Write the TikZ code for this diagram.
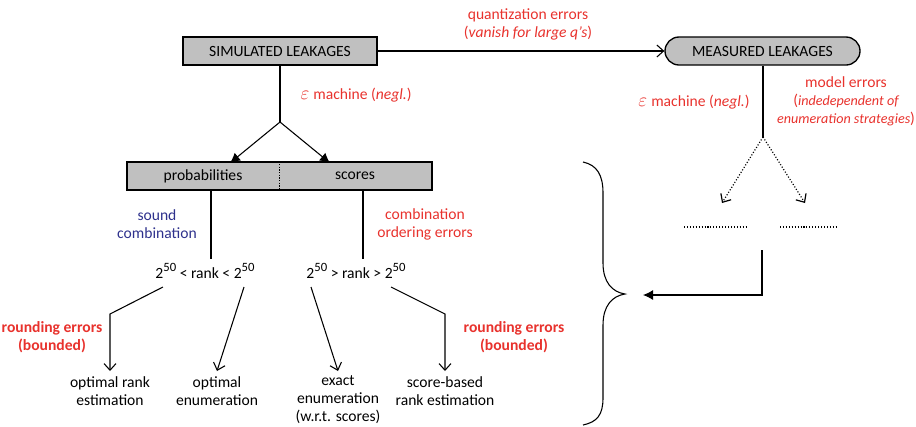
\documentclass[tikz,border=0pt]{standalone}
\usepackage{fontspec}
\setmainfont{Carlito}
\usetikzlibrary{arrows.meta}
\definecolor{errred}{RGB}{232,50,45}
\definecolor{soundblue}{RGB}{46,49,140}
\definecolor{boxgray}{RGB}{192,192,192}
\newcommand{\eps}{{\fontsize{15}{15}\selectfont$\varepsilon$}\hspace{3pt}}
\newcommand{\pw}[1]{\raisebox{0.5em}{\fontsize{9.5}{9.5}\selectfont #1}}
\newcommand{\smallit}[1]{{\fontsize{10.6}{13.5}\selectfont\itshape #1}}
\begin{document}
\begin{tikzpicture}[x=0.75pt,y=-0.75pt,
  font=\fontsize{11.7}{13.5}\selectfont,
  line width=0.8pt,
  graybox/.style={draw, fill=boxgray, line width=1pt, minimum height=21pt, inner sep=0pt},
  lbl/.style={align=center, inner sep=0pt},
  errlbl/.style={lbl, text=errred},
  filledtip/.style={-{Latex[length=7.5pt,width=7.5pt]}},
  opentip/.style={-{Straight Barb[length=5pt,width=9pt]}},
  dotline/.style={dash pattern=on 0.8pt off 1.4pt, line width=0.9pt}
]
\useasboundingbox (0,0) rectangle (916,426);

% top row
\node[graybox, minimum width=145.5pt] (sim) at (280,51) {SIMULATED LEAKAGES};
\node[graybox, minimum width=146.25pt, rounded corners=10.5pt] (meas) at (762.5,51) {MEASURED LEAKAGES};
\draw[opentip] (sim) -- (meas);
\node[errlbl] (quant) at (528,24) {quantization errors\\(\textit{vanish for large q’s})};

% left branch: split into probabilities / scores
\node[errlbl, anchor=west] (epsL) at (300,95) {\eps machine (\textit{negl.})};
\node[graybox, minimum width=228.75pt] (split) at (279.5,176) {};
\node[lbl] (prob) at (203,176) {probabilities};
\node[lbl] (scores) at (355,176) {scores};
\draw[line width=0.6pt, dash pattern=on 1pt off 1pt] (split.north) -- (split.south);
\coordinate (fork) at (280,122);
\draw (sim.south) -- (fork);
\draw[filledtip] (fork) -- (230,163);
\draw[filledtip] (fork) -- (330,163);

% probabilities path
\node[lbl, text=soundblue] (sound) at (157,224) {sound\\combination};
\node[lbl] (rankL) at (205,271) {2\pw{50} < rank < 2\pw{50}};
\coordinate (ptop) at (211,190);
\coordinate (pbot) at (211,259);
\draw (ptop) -- (pbot);

% scores path
\node[errlbl] (comb) at (425,224) {combination\\ordering errors};
\node[lbl] (rankR) at (356,271) {2\pw{50} > rank > 2\pw{50}};
\coordinate (stop) at (363,190);
\coordinate (sbot) at (363,259);
\draw (stop) -- (sbot);

% leaves
\node[lbl] (optrank) at (110,391) {optimal rank\\estimation};
\node[lbl] (optenum) at (217,391) {optimal\\enumeration};
\node[lbl] (exact) at (338,400) {exact\\enumeration\\(w.r.t. scores)};
\node[lbl] (scorerank) at (445,391) {score-based\\rank estimation};
\node[errlbl, font=\fontsize{11.7}{13.5}\selectfont\bfseries] (roundL) at (52,337) {rounding errors\\(bounded)};
\node[errlbl, font=\fontsize{11.7}{13.5}\selectfont\bfseries] (roundR) at (514,337) {rounding errors\\(bounded)};

\coordinate (a1) at (163,287);
\coordinate (a2) at (244,287);
\coordinate (a3) at (311,287);
\coordinate (a4) at (391,287);
\draw[opentip] (a1) -- (110,314) -- (110,371);
\draw[opentip] (a2) -- (217,371);
\draw[opentip] (a3) -- (338,371);
\draw[opentip] (a4) -- (445,314) -- (445,371);

% right branch: measured leakages
\node[errlbl] (epsR) at (694,102) {\eps machine (\textit{negl.})};
\node[errlbl] (model) at (846,101) {model errors\\(\smallit{indedependent of}\\\smallit{enumeration strategies})};
\coordinate (mfork) at (763,137);
\draw (meas.south -| mfork) -- (mfork);
\draw[opentip, dotline] (mfork) -- (722,203);
\draw[opentip, dotline] (mfork) -- (805,203);
\coordinate (d1a) at (684,227);
\coordinate (d1b) at (747,227);
\coordinate (d2a) at (780,227);
\coordinate (d2b) at (836,227);
\draw[dotline] (d1a) -- (d1b);
\draw[dotline] (d2a) -- (d2b);

% closing brace and arrow into it
\draw (583,162) .. controls (597,165) and (603,175) .. (603,193)
      -- (603,263) .. controls (603,282) and (612,292) .. (625,294)
      .. controls (612,296) and (603,306) .. (603,325)
      -- (603,398) .. controls (603,415) and (597,422) .. (583,425);
\coordinate (mout) at (762,250);
\coordinate (bracein) at (643,295);
\draw[filledtip] (mout) |- (bracein);
\end{tikzpicture}
\end{document}
